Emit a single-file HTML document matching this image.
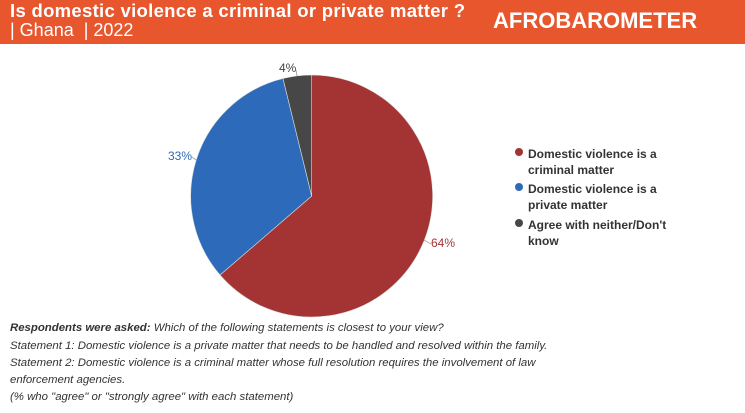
<!DOCTYPE html>
<html><head><style>
body{margin:0;width:745px;height:413px;background:#fff;font-family:"Liberation Sans",sans-serif;overflow:hidden;position:relative}
.hdr{position:absolute;left:0;top:0;width:745px;height:44px;background:#E8562D;color:#fff}
.t1{position:absolute;left:10px;top:0px;font-size:18.5px;font-weight:bold;white-space:nowrap;letter-spacing:0.3px}
.t2{position:absolute;left:10px;top:20px;font-size:18px;white-space:nowrap}
.logo{position:absolute;left:493px;top:8px;font-size:22px;font-weight:bold;letter-spacing:0}
.note{position:absolute;left:10px;font-size:11.4px;font-style:italic;color:#333;white-space:nowrap}
.leg{position:absolute;left:528px;font-size:12px;font-weight:bold;color:#333;line-height:16px}
.dot{position:absolute;left:-13px;top:2px;width:8px;height:8px;border-radius:50%}
</style></head><body>
<div class="hdr"><div class="t1">Is domestic violence a criminal or private matter ?</div><div class="t2">| Ghana &nbsp;| 2022</div><div class="logo">AFROBAROMETER</div></div>
<svg width="745" height="413" style="position:absolute;left:0;top:0">
<path d="M311.7,196 L311.7,75 A121,121 0 1,1 220,275 Z" fill="#A43434" stroke="#ddd" stroke-width="0.6"/>
<path d="M311.7,196 L220,275 A121,121 0 0,1 283,78.5 Z" fill="#2D6BBA" stroke="#ddd" stroke-width="0.6"/>
<path d="M311.7,196 L283,78.5 A121,121 0 0,1 311.7,75 Z" fill="#474747" stroke="#ddd" stroke-width="0.6"/>
<path d="M296,70 L297,76" stroke="#999" stroke-width="0.8"/>
<path d="M192,157 L196,160" stroke="#8aa" stroke-width="0.8"/>
<path d="M424,240 L431,244" stroke="#c99" stroke-width="0.8"/>
<text x="279" y="72" font-size="12" fill="#444" font-family="Liberation Sans">4%</text>
<text x="168" y="160" font-size="12" fill="#2D6BBA" font-family="Liberation Sans">33%</text>
<text x="431" y="247" font-size="12" fill="#A43434" font-family="Liberation Sans">64%</text>
</svg>
<div class="leg" style="top:146px"><span class="dot" style="background:#A43434"></span>Domestic violence is a<br>criminal matter</div>
<div class="leg" style="top:181px"><span class="dot" style="background:#2D6BBA"></span>Domestic violence is a<br>private matter</div>
<div class="leg" style="top:217px"><span class="dot" style="background:#474747"></span>Agree with neither/Don't<br>know</div>
<div class="note" style="top:322px"><b>Respondents were asked:</b> Which of the following statements is closest to your view?</div>
<div class="note" style="top:340px">Statement 1: Domestic violence is a private matter that needs to be handled and resolved within the family.</div>
<div class="note" style="top:357px">Statement 2: Domestic violence is a criminal matter whose full resolution requires the involvement of law</div>
<div class="note" style="top:374px">enforcement agencies.</div>
<div class="note" style="top:391px">(% who "agree" or "strongly agree" with each statement)</div>
</body></html>
